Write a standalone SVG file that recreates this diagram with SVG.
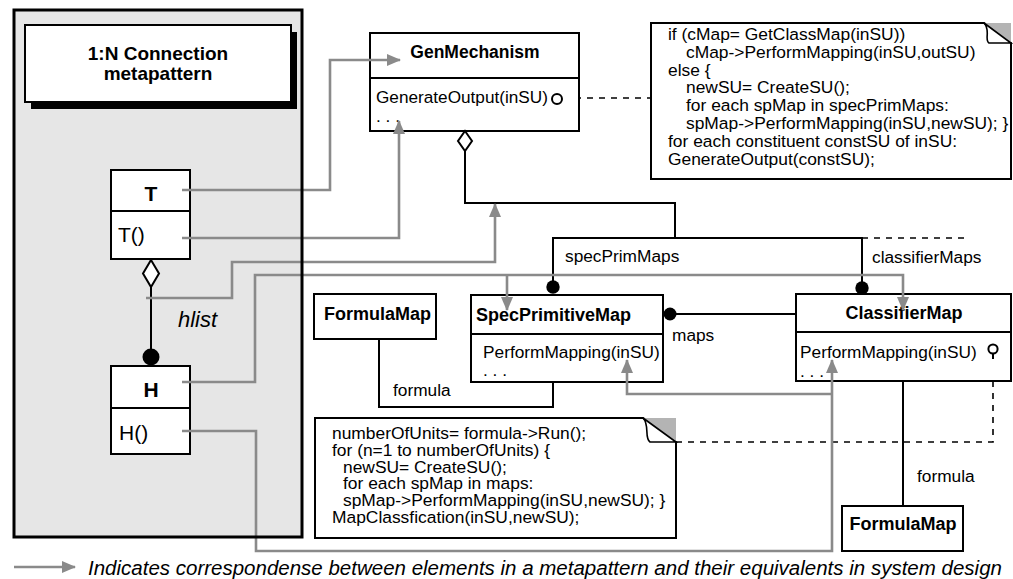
<svg xmlns="http://www.w3.org/2000/svg" width="1013" height="579" viewBox="0 0 1013 579">
  <defs>
    <marker id="grayArrow" markerUnits="userSpaceOnUse" markerWidth="14" markerHeight="12" viewBox="0 0 14 12" refX="13" refY="6" orient="auto">
      <path d="M0,0 L14,6 L0,12 Z" fill="#8a8a8a"/>
    </marker>
    <style>
      text { font-family: "Liberation Sans", Arial, sans-serif; fill: #000; }
      .box { fill: #fff; stroke: #000; stroke-width: 2; }
      .div { stroke: #000; stroke-width: 2; }
      .ttl { font-weight: bold; font-size: 18px; }
      .op { font-size: 17.3px; }
      .big { font-size: 21px; }
      .code { font-size: 17.4px; }
      .assoc { fill: none; stroke: #000; stroke-width: 2; }
      .dash { fill: none; stroke: #000; stroke-width: 1.6; stroke-dasharray: 6 6; }
      .corrArrow { fill: none; stroke: #8a8a8a; stroke-width: 2.6; marker-end: url(#grayArrow); }
      .dot { fill: #000; }
      .fold { fill: #b4b4b4; }
      .flap { fill: #fff; stroke: #000; stroke-width: 1.6; }
    </style>
  </defs>

  <!-- metapattern panel -->
  <g id="metapattern-panel">
    <rect x="14" y="10" width="288" height="527" fill="#e6e6e6"/>
    <rect x="31" y="32" width="266" height="77" fill="#000"/>
    <rect x="25" y="25" width="266" height="77" class="box"/>
    <text x="158" y="60" text-anchor="middle" font-weight="bold" font-size="19">1:N Connection</text>
    <text x="158" y="80" text-anchor="middle" font-weight="bold" font-size="19">metapattern</text>
  </g>

  <!-- black associations -->
  <g id="connectors">
    <!-- T to H aggregation -->
    <line x1="151" y1="287" x2="151" y2="352" class="assoc"/>
    <!-- GenMechanism to maps -->
    <polyline points="465,151 465,203 675,203 675,238" class="assoc"/>
    <polyline points="553,282 553,238 862,238 862,282" class="assoc"/>
    <line x1="862" y1="238" x2="968" y2="238" class="dash"/>
    <!-- SpecPrimitiveMap to ClassifierMap -->
    <line x1="670" y1="314" x2="796" y2="314" class="assoc"/>
    <!-- formula links -->
    <polyline points="379,339 379,407 553,407 553,382" class="assoc"/>
    <line x1="903" y1="381" x2="903" y2="506" class="assoc"/>
    <!-- note links -->
    <line x1="563" y1="98" x2="651" y2="98" class="dash"/>
    <polyline points="676,442 993,442 993,360" class="dash"/>
  </g>

  <!-- T class -->
  <g id="node-T">
    <rect x="111" y="170" width="79" height="89" class="box"/>
    <line x1="111" y1="211" x2="190" y2="211" class="div"/>
    <text x="151" y="201" text-anchor="middle" font-weight="bold" font-size="21">T</text>
    <text x="118" y="242" class="big">T()</text>
    <polygon points="151,260 159,273.5 151,287 143,273.5" fill="#fff" stroke="#000" stroke-width="2"/>
  </g>

  <text x="178" y="327" font-style="italic" font-size="22">hlist</text>

  <!-- H class -->
  <g id="node-H">
    <circle cx="151" cy="357" r="8.5" class="dot"/>
    <rect x="111" y="366" width="79" height="88" class="box"/>
    <line x1="111" y1="408" x2="190" y2="408" class="div"/>
    <text x="151" y="397" text-anchor="middle" font-weight="bold" font-size="21">H</text>
    <text x="119" y="440" class="big">H()</text>
  </g>

  <!-- GenMechanism class -->
  <g id="node-GenMechanism">
    <rect x="370" y="33" width="209" height="98" class="box"/>
    <line x1="370" y1="78" x2="579" y2="78" class="div"/>
    <text x="475" y="58" text-anchor="middle" font-weight="bold" font-size="17.5">GenMechanism</text>
    <text x="376" y="103" font-size="17.2">GenerateOutput(inSU)</text>
    <circle cx="557" cy="99" r="5" fill="#fff" stroke="#000" stroke-width="2"/>
    <text x="376" y="122" class="op">. . .</text>
    <polygon points="465,131 472,141 465,151 458,141" fill="#fff" stroke="#000" stroke-width="2"/>
  </g>

  <!-- GenerateOutput note -->
  <g id="note-GenerateOutput">
    <path d="M651,23 L984,23 L1011,43 L1011,179 L651,179 Z" fill="#fff" stroke="#000" stroke-width="2"/>
    <path d="M984,23 L1011,23 L1011,43 Z" class="fold"/>
    <path d="M984,23 C991,30 984,40 989,43 L1011,43 Z" class="flap"/>
    <text class="code">
      <tspan x="668" y="40">if (cMap= GetClassMap(inSU))</tspan>
      <tspan x="686" y="57.8">cMap-&gt;PerformMapping(inSU,outSU)</tspan>
      <tspan x="668" y="75.6">else {</tspan>
      <tspan x="686" y="93.4">newSU= CreateSU();</tspan>
      <tspan x="686" y="111.2">for each spMap in specPrimMaps:</tspan>
      <tspan x="686" y="129">spMap-&gt;PerformMapping(inSU,newSU); }</tspan>
      <tspan x="668" y="146.8">for each constituent constSU of inSU:</tspan>
      <tspan x="668" y="164.6">GenerateOutput(constSU);</tspan>
    </text>
  </g>

  <text x="565" y="262" class="op">specPrimMaps</text>
  <text x="872" y="263" class="op">classifierMaps</text>

  <!-- FormulaMap (left) -->
  <g id="node-FormulaMap-1">
    <rect x="314" y="294" width="122" height="45" class="box"/>
    <text x="324" y="320" class="ttl">FormulaMap</text>
  </g>
  <text x="393" y="396" class="op">formula</text>

  <!-- SpecPrimitiveMap class -->
  <g id="node-SpecPrimitiveMap">
    <circle cx="553" cy="287" r="6.7" class="dot"/>
    <rect x="471" y="295" width="192" height="87" class="box"/>
    <line x1="471" y1="334" x2="663" y2="334" class="div"/>
    <text x="476" y="321" class="ttl">SpecPrimitiveMap</text>
    <text x="483" y="358" class="op">PerformMapping(inSU)</text>
    <text x="483" y="376" class="op">. . .</text>
    <circle cx="670" cy="314" r="6.5" class="dot"/>
  </g>
  <text x="672" y="341" class="op">maps</text>

  <!-- ClassifierMap class -->
  <g id="node-ClassifierMap">
    <circle cx="862" cy="288" r="6.7" class="dot"/>
    <rect x="796" y="294" width="215" height="87" class="box"/>
    <line x1="796" y1="332" x2="1011" y2="332" class="div"/>
    <text x="904" y="319" text-anchor="middle" class="ttl">ClassifierMap</text>
    <text x="800" y="358" class="op">PerformMapping(inSU)</text>
    <text x="800" y="377" class="op">. . .</text>
    <circle cx="993" cy="349" r="4.6" fill="#fff" stroke="#000" stroke-width="2"/>
    <line x1="993" y1="353.5" x2="993" y2="359" stroke="#000" stroke-width="2"/>
  </g>

  <!-- FormulaMap (right) -->
  <g id="node-FormulaMap-2">
    <rect x="842" y="506" width="121" height="45" class="box"/>
    <text x="903" y="530" text-anchor="middle" class="ttl">FormulaMap</text>
  </g>
  <text x="917" y="482" class="op">formula</text>

  <!-- MapClassification note -->
  <g id="note-PerformMapping">
    <path d="M315,418 L643,418 L676,442 L676,538 L315,538 Z" fill="#fff" stroke="#000" stroke-width="2"/>
    <path d="M643,418 L676,418 L676,442 Z" class="fold"/>
    <path d="M643,418 C650,425 644,438 650,442 L676,442 Z" class="flap"/>
    <text class="code">
      <tspan x="332" y="439">numberOfUnits= formula-&gt;Run();</tspan>
      <tspan x="332" y="455.8">for (n=1 to numberOfUnits) {</tspan>
      <tspan x="343" y="472.6">newSU= CreateSU();</tspan>
      <tspan x="343" y="489.4">for each spMap in maps:</tspan>
      <tspan x="343" y="506.2">spMap-&gt;PerformMapping(inSU,newSU); }</tspan>
      <tspan x="332" y="523">MapClassfication(inSU,newSU);</tspan>
    </text>
  </g>

  <!-- correspondence links between metapattern and design -->
  <g id="correspondence">
    <polyline points="182,190 330,190 330,60 400,60" class="corrArrow"/>
    <polyline points="182,238 399,238 399,121" class="corrArrow"/>
    <polyline points="146,298 232,298 232,262 495,262 495,204" class="corrArrow"/>
    <polyline points="182,382 255,382 255,275 903,275 903,310" class="corrArrow"/>
    <polyline points="507,275 507,310" class="corrArrow"/>
    <polyline points="182,431 256,431 256,551 832,551 832,360" class="corrArrow"/>
    <polyline points="832,394 627,394 627,360" class="corrArrow"/>
  </g>

  <!-- panel frame, drawn over the crossing links -->
  <rect x="14" y="10" width="288" height="527" fill="none" stroke="#000" stroke-width="3"/>

  <!-- legend -->
  <g id="legend">
    <line x1="14" y1="567" x2="75" y2="567" class="corrArrow"/>
    <text x="88" y="575" font-style="italic" font-size="20.5">Indicates correspondense between elements in a metapattern and their equivalents in system design</text>
  </g>
</svg>
